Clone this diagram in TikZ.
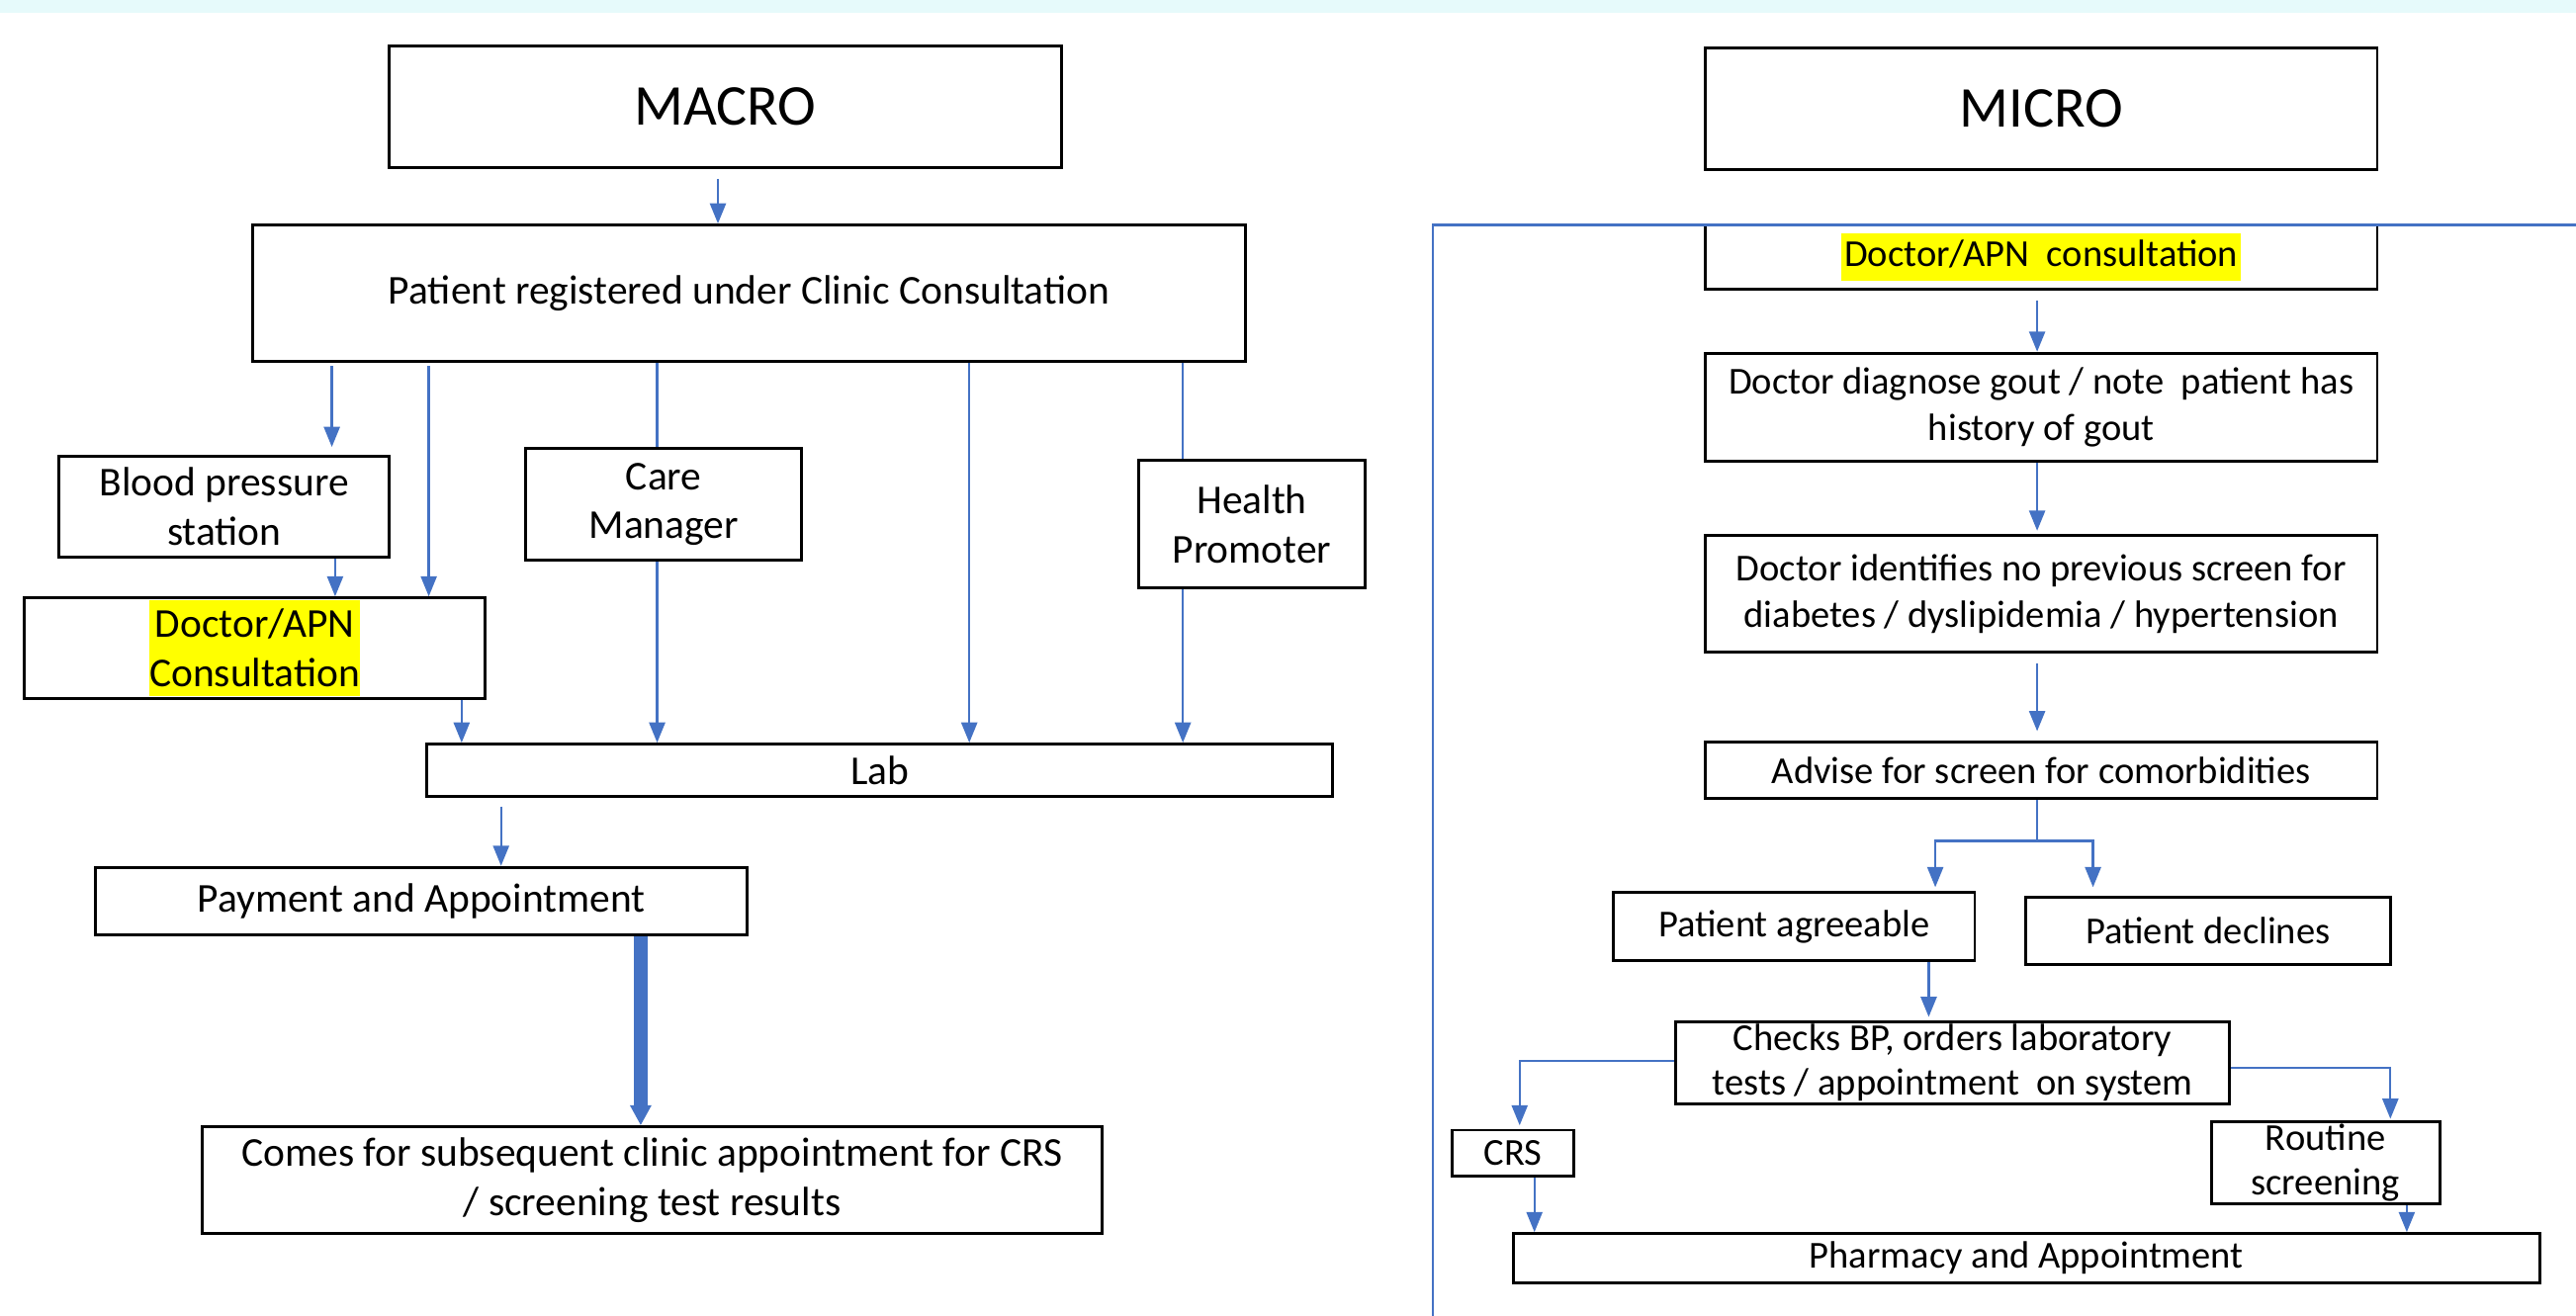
\documentclass[tikz,border=0pt]{standalone}
\usepackage{fontspec}
\setmainfont{Carlito}
\usetikzlibrary{arrows.meta}
\definecolor{ablue}{HTML}{4472C4}
\definecolor{hly}{HTML}{FFFF00}
\definecolor{topband}{HTML}{E6FAFB}
\newdimen\pxu \pxu=0.2mm
\newcommand{\hlbox}[3]{{\setlength{\fboxsep}{0pt}\colorbox{hly}{\parbox[c][#2\pxu][c]{#1\pxu}{\centering #3}}}}
\newcommand{\hlone}[1]{{\setlength{\fboxsep}{0pt}\colorbox{hly}{\rule[-5pt]{0pt}{16.5pt}\hspace{1pt}#1\hspace{1pt}}}}
\newcommand{\fsL}{\fontsize{14.2pt}{17pt}\selectfont}
\newcommand{\fsR}{\fontsize{13.2pt}{16pt}\selectfont}
\newcommand{\fsRt}{\fontsize{13.2pt}{15.4pt}\selectfont}
\newcommand{\fsT}{\fontsize{20pt}{24pt}\selectfont}
\tikzset{
  box/.style={draw=black, line width=1pt, inner sep=0pt, align=center, font=\fsL},
  rbox/.style={box, font=\fsR},
  tbox/.style={box, font=\fsT},
  arr/.style={draw=ablue, line width=0.8pt, -{Triangle[length=7pt,width=5.5pt]}},
  ln/.style={draw=ablue, line width=0.8pt},
  bigarr/.style={draw=ablue, line width=4.5pt, -{Triangle[length=7pt,width=7pt]}},
}
\begin{document}
\begin{tikzpicture}[x=0.2mm, y=-0.2mm]
\useasboundingbox (0,0) rectangle (1568,801);
\fill[white] (0,0) rectangle (1568,801);
\fill[topband] (0,0) rectangle (1568,8);

% ---------- MACRO ----------
\node[tbox, minimum width=409\pxu, minimum height=74\pxu] (macro) at (441.5,65) {MACRO};
\node[box, minimum width=604\pxu, minimum height=83\pxu] (reg) at (456,178.5) {Patient registered under Clinic Consultation};
\node[box, minimum width=201\pxu, minimum height=61\pxu] (bp) at (136.5,308.5) {Blood pressure\\station};
\node[box, minimum width=280\pxu, minimum height=61\pxu] (docl) at (155,394.5) {\hlbox{128}{58}{Doctor/APN\\Consultation}};
\node[box, minimum width=168\pxu, minimum height=68\pxu] (care) at (404,307) {Care\\Manager};
\node[box, minimum width=138\pxu, minimum height=78\pxu] (hp) at (762,319) {Health\\Promoter};
\node[box, minimum width=551\pxu, minimum height=32\pxu] (lab) at (535.5,469) {Lab};
\node[box, minimum width=397\pxu, minimum height=41\pxu] (pay) at (256.5,548.5) {Payment and Appointment};
\node[box, minimum width=548\pxu, minimum height=65\pxu] (comes) at (397,718.5) {Comes for subsequent clinic appointment for CRS\\/ screening test results};

\draw[arr, shorten <=6\pxu] (macro.south -| 437,0) -- (reg.north -| 437,0);
\draw[arr, shorten <=2\pxu, shorten >=5\pxu] (reg.south -| 202,0) -- (bp.north -| 202,0);
\draw[arr, shorten <=2\pxu] (reg.south -| 261,0) -- (docl.north -| 261,0);
\draw[ln] (reg.south -| 400,0) -- (care.north -| 400,0);
\draw[arr] (care.south -| 400,0) -- (lab.north -| 400,0);
\draw[arr] (reg.south -| 590,0) -- (lab.north -| 590,0);
\draw[ln] (reg.south -| 720,0) -- (hp.north -| 720,0);
\draw[arr] (hp.south -| 720,0) -- (lab.north -| 720,0);
\draw[arr] (bp.south -| 204,0) -- (docl.north -| 204,0);
\draw[arr] (docl.south -| 281,0) -- (lab.north -| 281,0);
\draw[arr, shorten <=5\pxu] (lab.south -| 305,0) -- (pay.north -| 305,0);
\draw[bigarr] (pay.south -| 390,0) -- (comes.north -| 390,0);

% ---------- MICRO ----------
\node[tbox, minimum width=409\pxu, minimum height=74\pxu] (micro) at (1242.5,66) {MICRO};
\node[rbox, minimum width=409\pxu, minimum height=39\pxu] (docr) at (1242.5,156.5) {\hlone{Doctor/APN\ \ consultation}};
\node[rbox, minimum width=409\pxu, minimum height=66\pxu] (diag) at (1242.5,248) {Doctor diagnose gout / note\ \ patient has\\history of gout};
\node[rbox, minimum width=409\pxu, minimum height=71\pxu] (ident) at (1242.5,361.5) {Doctor identifies no previous screen for\\diabetes / dyslipidemia / hypertension};
\node[rbox, minimum width=409\pxu, minimum height=34\pxu] (advise) at (1242.5,469) {Advise for\ screen for comorbidities};
\node[rbox, minimum width=220\pxu, minimum height=42\pxu] (agree) at (1092,564) {Patient agreeable};
\node[rbox, minimum width=222\pxu, minimum height=41\pxu] (decl) at (1344,566.5) {Patient declines};
\node[rbox, minimum width=337\pxu, minimum height=50\pxu, font=\fsRt] (checks) at (1188.5,647) {Checks BP, orders laboratory\\tests / appointment\ \ on system};
\node[rbox, minimum width=74\pxu, minimum height=28\pxu] (crs) at (921,702) {CRS};
\node[rbox, minimum width=139\pxu, minimum height=50\pxu, font=\fsRt] (routine) at (1415.5,708) {Routine\\screening};
\node[rbox, minimum width=625\pxu, minimum height=30\pxu] (pharm) at (1233.5,766) {Pharmacy and Appointment};

\draw[ln] (872,805) -- (872,137) -- (1570,137);

\draw[arr, shorten <=6\pxu] (docr.south -| 1240,0) -- (diag.north -| 1240,0);
\draw[arr, shorten >=2\pxu] (diag.south -| 1240,0) -- (ident.north -| 1240,0);
\draw[arr, shorten <=6\pxu, shorten >=6\pxu] (ident.south -| 1240,0) -- (advise.north -| 1240,0);
\coordinate (split) at (1240,512);
\draw[ln] (advise.south -| split) -- (split);
\draw[arr, shorten >=2\pxu] (split) -| (agree.north -| 1178,0);
\draw[arr, shorten >=5\pxu] (split) -| (decl.north -| 1274,0);
\draw[arr, shorten >=2\pxu] (agree.south -| 1174,0) -- (checks.north -| 1174,0);
\draw[arr, shorten >=2\pxu] (checks.west |- 0,646) -| (crs.north -| 925,0);
\draw[arr, shorten >=1\pxu] (checks.east |- 0,650) -| (routine.north -| 1455,0);
\draw[arr] (crs.south -| 934,0) -- (pharm.north -| 934,0);
\draw[arr] (routine.south -| 1465,0) -- (pharm.north -| 1465,0);
\end{tikzpicture}
\end{document}
